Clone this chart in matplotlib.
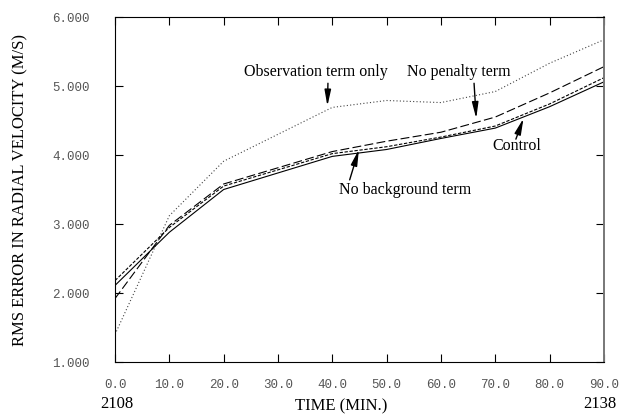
import matplotlib.pyplot as plt
import numpy as np

# time in minutes after 2108
tiempo = [0, 10, 20, 40, 50, 60, 70, 80, 90]
obs_only = [1.40, 3.12, 3.91, 4.69, 4.79, 4.76, 4.92, 5.33, 5.67]
control = [2.11, 2.88, 3.50, 3.98, 4.08, 4.24, 4.39, 4.70, 5.06]
no_background = [2.18, 2.95, 3.55, 4.02, 4.12, 4.26, 4.42, 4.74, 5.12]
no_penalty = [1.92, 2.98, 3.58, 4.05, 4.20, 4.33, 4.55, 4.90, 5.28]

xticks = np.arange(0, 91, 10)
yticks = [1, 2, 3, 4, 5, 6]

# labels: text, text position, arrow tail, arrow head
etiquetas = [
    ("Observation term only", (37.0, 5.20), (39.2, 5.04), (39.1, 4.71)),
    ("No penalty term", (63.3, 5.20), (66.1, 5.04), (66.5, 4.53)),
    ("Control", (74.0, 4.13), (73.8, 4.23), (75.2, 4.53)),
    ("No background term", (53.4, 3.49), (43.2, 3.64), (44.9, 4.08)),
]

serif = 'Liberation Serif'
mono = 'Liberation Mono'

fig = plt.figure(figsize=(6.2, 4.15), dpi=100)
ax = fig.add_axes([0.1855, 0.1277, 0.7885, 0.8313])

ax.plot(tiempo, obs_only, color='#444444', lw=0.8, dashes=(1, 2))
ax.plot(tiempo, control, color='black', lw=0.8)
ax.plot(tiempo, no_background, color='black', lw=0.8, dashes=(3, 1.5))
ax.plot(tiempo, no_penalty, color='black', lw=0.8, dashes=(8, 3))

ax.set_xlim(0, 90)
ax.set_ylim(1, 6)
ax.set_xticks(xticks)
ax.set_xticklabels([f"{v:.1f}" for v in xticks])
ax.set_yticks(yticks)
ax.set_yticklabels([f"{v:.3f}" for v in yticks])
ax.tick_params(axis='both', direction='in', top=True, right=True,
               length=6, width=0.8, colors='black', labelcolor='#555555',
               labelsize=9)
ax.tick_params(axis='x', pad=12)
ax.tick_params(axis='y', pad=18)
for lab in ax.get_xticklabels() + ax.get_yticklabels():
    lab.set_family(mono)
for s in ax.spines.values():
    s.set_linewidth(0.8)
ax.spines['right'].set_color('#777777')
ax.spines['right'].set_linewidth(1.4)

ax.set_ylabel("RMS ERROR IN RADIAL VELOCITY (M/S)", family=serif,
              fontsize=12)
ax.yaxis.set_label_coords(-0.178, 0.5)
fig.text(341 / 620, 1 - 406 / 415, "TIME (MIN.)", family=serif,
         fontsize=12, ha='center', va='center')
fig.text(117 / 620, 1 - 404 / 415, "2108", family=serif, fontsize=12,
         ha='center', va='center')
fig.text(600 / 620, 1 - 404 / 415, "2138", family=serif, fontsize=12,
         ha='center', va='center')

flecha = dict(arrowstyle='-|>,head_length=0.8,head_width=0.16',
              color='black', lw=1, mutation_scale=12, shrinkA=0, shrinkB=0)
for texto, pos, cola, punta in etiquetas:
    ax.text(pos[0], pos[1], texto, family=serif, fontsize=11.5,
            ha='center', va='center')
    ax.annotate("", xy=punta, xytext=cola, arrowprops=flecha)

plt.savefig("out.png", dpi=100)
